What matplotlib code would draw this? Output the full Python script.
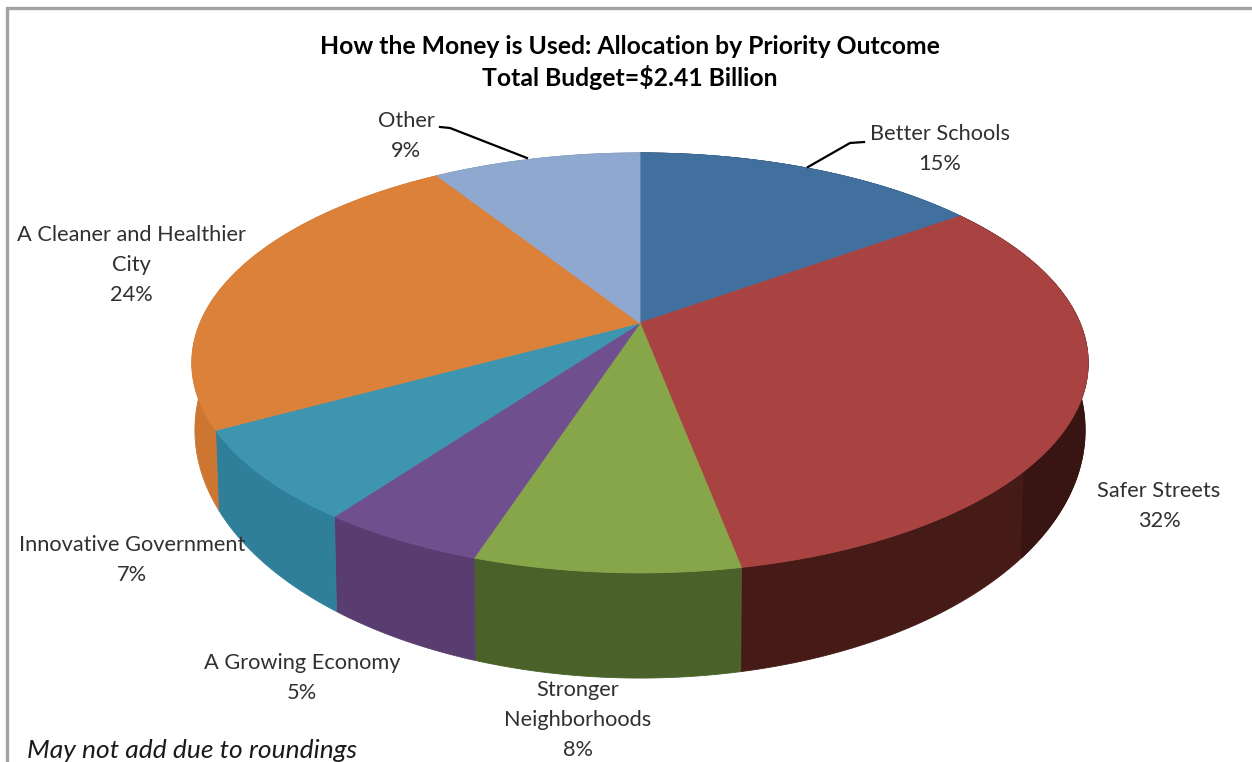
import numpy as np
import matplotlib
matplotlib.use("Agg")
import matplotlib.pyplot as plt
from matplotlib.colors import to_rgb
from matplotlib.patches import Polygon

plt.rcParams['font.family'] = ['Lato', 'DejaVu Sans']

# Budget shares, clockwise from twelve o'clock
outcomes = ["Better Schools", "Safer Streets", "Stronger\nNeighborhoods",
            "A Growing Economy", "Innovative Government",
            "A Cleaner and Healthier\nCity", "Other"]
shares = [15, 32, 8, 5, 7, 24, 9]

top_colors = ["#41709F", "#A84342", "#87A64A", "#704F8F", "#3E95B0", "#DB813A", "#8FA8CF"]
wall_colors = ["#2C4D70", "#461A16", "#4A6229", "#5A3D70", "#2F7F9A", "#CC7632", "#6A7EA0"]

label_centers = [(940, 149), (1159, 506), (578, 720), (302, 678),
                 (132, 560), (131, 265), (406, 136)]

title_lines = ["How the Money is Used: Allocation by Priority Outcome",
               "Total Budget=$2.41 Billion"]
footnote = "May not add due to roundings"

fig = plt.figure(figsize=(12.52, 7.62), dpi=100, facecolor="white")
ax = fig.add_axes([0, 0, 1, 1])
ax.set_xlim(0, 1252)
ax.set_ylim(762, 0)
ax.axis("off")


def rim(theta, half_width, apex_y, depth_scale, tilt=0.19):
    """Perspective projection of a disc edge; theta runs clockwise from the top."""
    denom = 1 + tilt * np.cos(theta)
    x = 640 + half_width * np.sin(theta) / denom
    y = apex_y - depth_scale * np.cos(theta) / denom
    return x, y


def top_rim(theta):
    return rim(theta, 440, 323, 202.4)


def bottom_rim(theta):
    return rim(theta, 437, 383, 239)


def wall_patch(start, stop, color):
    t = np.linspace(start, stop, 200)
    xt, yt = top_rim(t)
    xb, yb = bottom_rim(t)
    verts = np.column_stack([np.r_[xt, xb[::-1]], np.r_[yt, yb[::-1]]])
    ax.add_patch(Polygon(verts, closed=True, facecolor=color, edgecolor=color, lw=0.6, zorder=2))


edges = np.radians(np.cumsum([0] + shares) / sum(shares) * 360)
shadow_limit = np.radians(130)  # walls right of this bearing sit in deeper shadow

# Side walls first, then the top faces paint over whatever is hidden
for start, stop, color in zip(edges[:-1], edges[1:], wall_colors):
    wall_patch(start, stop, color)
    if start < shadow_limit:
        shaded = tuple(0.8 * c for c in to_rgb(color))
        wall_patch(start, min(stop, shadow_limit), shaded)

for start, stop, color in zip(edges[:-1], edges[1:], top_colors):
    t = np.linspace(start, stop, 200)
    xt, yt = top_rim(t)
    verts = np.column_stack([np.r_[640, xt], np.r_[323, yt]])
    ax.add_patch(Polygon(verts, closed=True, facecolor=color, edgecolor=color, lw=0.6, zorder=3))

# Outer frame: only the top and left sides fall inside the canvas
ax.plot([1252, 7, 7], [8, 8, 762], color="#A3A3A3", lw=2.4, zorder=1, solid_joinstyle="miter")

# Leader lines
ax.plot([440, 450, 527], [127, 128, 158], color="black", lw=1.6, zorder=4)
ax.plot([864, 850, 808], [142, 143, 167], color="black", lw=1.6, zorder=4)

for name, share, (cx, cy) in zip(outcomes, shares, label_centers):
    ax.text(cx, cy, f"{name}\n{share}%", ha="center", va="center", fontsize=15.7,
            color="#303030", linespacing=1.62, zorder=5)

ax.text(630, 46, title_lines[0], ha="center", va="center", fontsize=17.8,
        fontweight="bold", color="black", zorder=5)
ax.text(630, 78, title_lines[1], ha="center", va="center", fontsize=17.8,
        fontweight="bold", color="black", zorder=5)
ax.text(27, 750, footnote, ha="left", va="center", fontsize=19,
        style="italic", color="#1a1a1a", zorder=5)

fig.savefig("out.png", dpi=100, facecolor="white")
